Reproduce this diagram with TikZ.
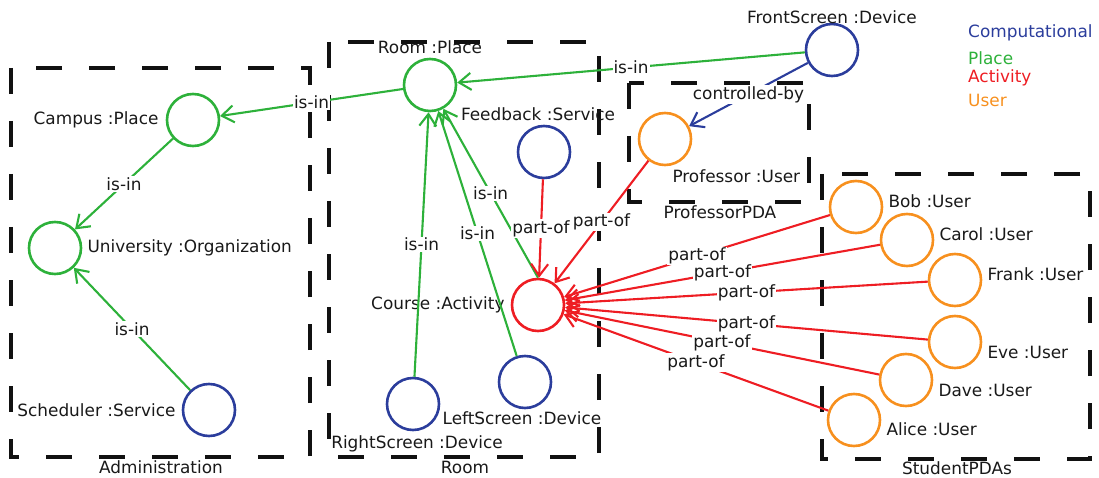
\documentclass[tikz,border=0pt]{standalone}
\usepackage{fontspec}
\setmainfont{DejaVu Sans}
\usetikzlibrary{arrows.meta,positioning}
\definecolor{CompBlue}{HTML}{2B3D9C}
\definecolor{PlaceGreen}{HTML}{2DB13A}
\definecolor{ActRed}{HTML}{EE1D23}
\definecolor{UserOrange}{HTML}{F7901E}
\definecolor{GroupInk}{HTML}{111111}

\begin{document}
\begin{tikzpicture}[
  x=1pt, y=-1pt,
  font=\fontsize{16.9}{19}\selectfont,
  ent/.style={circle,minimum size=52pt,inner sep=0pt,line width=2.6pt},
  comp/.style={ent,draw=CompBlue},
  place/.style={ent,draw=PlaceGreen},
  act/.style={ent,draw=ActRed},
  user/.style={ent,draw=UserOrange},
  lbl/.style={inner sep=1pt,text=black!90},
  elbl/.style={fill=white,inner sep=1pt,text=black!90},
  rel/.style={line width=2.1pt,-{Straight Barb[length=12pt,width=17pt]}},
  isin/.style={rel,draw=PlaceGreen},
  partof/.style={rel,draw=ActRed},
  ctrl/.style={rel,draw=CompBlue},
  group/.style={draw=GroupInk,line width=3.4pt,dash pattern=on 26pt off 27pt}
]
\useasboundingbox (0,0) rectangle (1099,478);

% groups
\draw[group] (11,68) rectangle (310,457);
\draw[group] (329,42) rectangle (599,457);
\draw[group] (629,83) rectangle (809,202);
\draw[group] (822,174) rectangle (1090,459);
\node[lbl] (admin-name) at (161,467) {Administration};
\node[lbl] (room-box-name) at (465,467) {Room};
\node[lbl] (pda-name) at (720,212) {ProfessorPDA};
\node[lbl] (students-name) at (957,468) {StudentPDAs};

% entities
\node[place] (campus) at (193,120) {};
\node[place] (university) at (55,248) {};
\node[comp] (scheduler) at (209,410) {};
\node[place] (room) at (430,85) {};
\node[comp] (feedback) at (544,152) {};
\node[act] (course) at (538,305) {};
\node[comp] (rightscreen) at (413,404) {};
\node[comp] (leftscreen) at (525,382) {};
\node[comp] (frontscreen) at (832,50) {};
\node[user] (professor) at (665,139) {};
\node[user] (bob) at (856,207) {};
\node[user] (carol) at (907,240) {};
\node[user] (frank) at (955,280) {};
\node[user] (eve) at (955,342) {};
\node[user] (dave) at (906,380) {};
\node[user] (alice) at (854,420) {};

% names
\node[lbl,left=6pt of campus] (campus-name) {Campus :Place};
\node[lbl,right=4pt of university] (university-name) {University :Organization};
\node[lbl,left=5pt of scheduler] (scheduler-name) {Scheduler :Service};
\node[lbl,above=3pt of room] (room-name) {Room :Place};
\node[lbl,above=3pt of feedback,xshift=-6pt] (feedback-name) {Feedback :Service};
\node[lbl,left=5pt of course] (course-name) {Course :Activity};
\node[lbl,below=3pt of rightscreen,xshift=4pt] (rightscreen-name) {RightScreen :Device};
\node[lbl,below=1pt of leftscreen,xshift=-3pt] (leftscreen-name) {LeftScreen :Device};
\node[lbl,above=-2pt of frontscreen] (frontscreen-name) {FrontScreen :Device};
\node[lbl,below right=10pt and -13pt of professor] (professor-name) {Professor :User};
\node[lbl,right=4pt of bob,yshift=6pt] (bob-name) {Bob :User};
\node[lbl,right=4pt of carol,yshift=6pt] (carol-name) {Carol :User};
\node[lbl,right=4pt of frank,yshift=6pt] (frank-name) {Frank :User};
\node[lbl,right=4pt of eve,yshift=-10pt] (eve-name) {Eve :User};
\node[lbl,right=4pt of dave,yshift=-10pt] (dave-name) {Dave :User};
\node[lbl,right=4pt of alice,yshift=-9pt] (alice-name) {Alice :User};

% relations
\draw[isin] (room) -- node[elbl] (r1) {is-in} (campus);
\draw[isin] (campus) -- node[elbl] (r2) {is-in} (university);
\draw[isin] (scheduler) -- node[elbl] (r3) {is-in} (university);
\draw[isin] (frontscreen) -- node[elbl] (r4) {is-in} (room);
\draw[isin] (rightscreen) -- node[elbl] (r5) {is-in} (room);
\draw[isin] (leftscreen) -- node[elbl] (r6) {is-in} (room);
\draw[isin] (course.north) -- node[elbl] (r7) {is-in} (room);
\draw[ctrl] (frontscreen) -- node[elbl] (r8) {controlled-by} (professor);
\draw[partof] (feedback) -- node[elbl] (r9) {part-of} (course);
\draw[partof] (professor) -- node[elbl] (r10) {part-of} (course);
\foreach \s in {bob,carol,frank,eve,dave,alice}
  \draw[partof] (\s) -- node[elbl] (po-\s) {part-of} (course);

% legend
\node[lbl,anchor=west,text=CompBlue] (key-comp) at (967,33) {Computational};
\node[lbl,anchor=west,text=PlaceGreen] (key-place) at (967,58) {Place};
\node[lbl,anchor=west,text=ActRed] (key-act) at (967,78) {Activity};
\node[lbl,anchor=west,text=UserOrange] (key-user) at (967,100) {User};
\end{tikzpicture}
\end{document}
